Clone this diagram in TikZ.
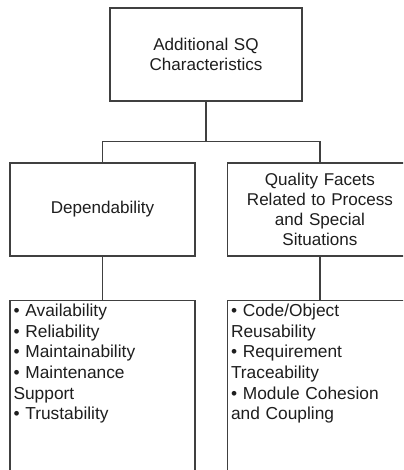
\documentclass[tikz,border=0pt]{standalone}
\usepackage{fontspec}
\setmainfont{Liberation Sans}
\usetikzlibrary{positioning}
\definecolor{linegray}{RGB}{64,64,64}
\definecolor{textgray}{RGB}{30,30,30}

\begin{document}
\begin{tikzpicture}[x=0.75pt,y=-0.75pt,node distance=32.25pt and 23.25pt,
  headbox/.style={draw=linegray,line width=1.1pt,fill=white,minimum width=138.75pt,minimum height=69.75pt,text width=132pt,align=center,text=textgray,font=\fontsize{12.8}{15}\selectfont},
  listbox/.style={draw=linegray,line width=1.1pt,fill=white,minimum width=138.75pt,minimum height=135pt},
  listtext/.style={anchor=north west,inner sep=3pt,text width=132pt,align=left,text=textgray,font=\fontsize{13}{15.5}\selectfont},
  link/.style={draw=linegray,line width=1.1pt}]
\useasboundingbox (0,0) rectangle (403,470);
\clip (0,0) rectangle (403,470);
\node[headbox,minimum width=144pt] (top) at (206,54.5) {Additional SQ\\Characteristics};
\node[headbox] (dep) at (102.5,209.5) {Dependability};
\node[headbox,right=of dep] (qual) {Quality Facets\\Related to Process\\and Special\\Situations};
\node[listbox,below=of dep,anchor=north] (deplist) {};
\node[listbox,below=of qual,anchor=north] (quallist) {};
\node[listtext] (deptext) at (deplist.north west) {• Availability\\• Reliability\\• Maintainability\\• Maintenance\\Support\\• Trustability};
\node[listtext] (qualtext) at (quallist.north west) {• Code/Object\\Reusability\\• Requirement\\Traceability\\• Module Cohesion\\and Coupling};
% connectors
\draw[link] (top.south) -- ++(0,40) -| (dep.north);
\draw[link] (top.south) -- ++(0,40) -| (qual.north);
\draw[link] (dep) -- (deplist);
\draw[link] (qual) -- (quallist);
\end{tikzpicture}
\end{document}
